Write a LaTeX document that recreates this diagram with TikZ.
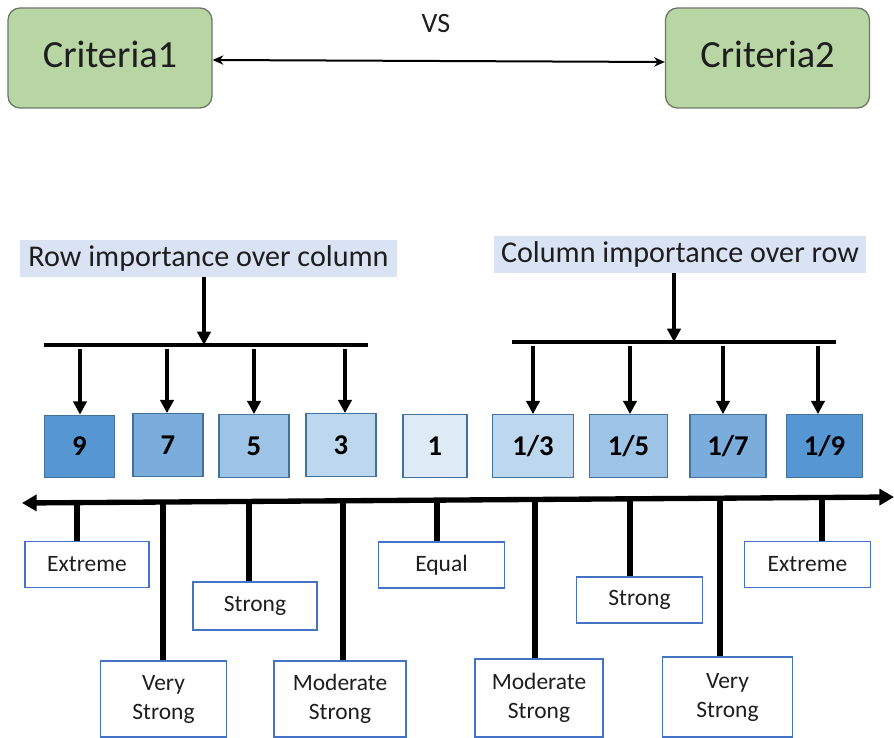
\documentclass[tikz,border=0pt]{standalone}
\usepackage{fontspec}
\setmainfont{Carlito}
\usetikzlibrary{arrows.meta}

\definecolor{critfill}{RGB}{184,214,164}
\definecolor{critedge}{RGB}{110,120,104}
\definecolor{headfill}{RGB}{218,227,243}
\definecolor{numedge}{RGB}{65,113,156}
\definecolor{lvl9}{RGB}{86,150,210}
\definecolor{lvl7}{RGB}{122,172,220}
\definecolor{lvl5}{RGB}{157,195,230}
\definecolor{lvl3}{RGB}{189,215,238}
\definecolor{lvl1}{RGB}{222,235,247}
\definecolor{tagedge}{RGB}{68,114,196}
\definecolor{inkgray}{RGB}{30,30,30}

% two centred lines, set a little below the middle of their box
\newcommand\twoline[2]{\raisebox{-4pt}{\begin{tabular}{@{}c@{}}#1\\[0.75pt]#2\end{tabular}}}

\tikzset{
  crit/.style={draw=critedge, line width=1pt, fill=critfill, rounded corners=9,
    minimum width=153pt, minimum height=75pt, inner sep=0pt,
    font=\fontsize{28.8}{32}\selectfont, text=inkgray},
  headbox/.style={fill=headfill, inner sep=0pt, minimum height=28pt,
    font=\fontsize{22.6}{26}\selectfont, text=inkgray},
  numbox/.style={draw=numedge, line width=0.8pt, inner sep=0pt,
    minimum height=47pt, font=\fontsize{21.5}{24}\selectfont\bfseries},
  tagbox/.style={draw=tagedge, line width=0.9pt, fill=white, inner sep=0pt,
    font=\fontsize{17.6}{21}\selectfont, text=inkgray},
  thinlink/.style={line width=1.5pt, {Stealth[length=8pt,width=7pt]}-{Stealth[length=8pt,width=7pt]}},
  bar/.style={line width=2.6pt},
  droparrow/.style={line width=2.4pt, -{Triangle[length=10pt,width=10pt]}},
  axis/.style={line width=4pt, {Triangle[length=11pt,width=12pt]}-{Triangle[length=11pt,width=12pt]}},
  tick/.style={line width=4pt},
}

\begin{document}
\begin{tikzpicture}[x=0.75pt,y=-0.75pt]
\useasboundingbox (0,0) rectangle (894,738);

% criteria being compared
\node[crit] (c1) at (110,58) {\raisebox{5pt}{Criteria1}};
\node[crit] (c2) at (767.5,58) {\raisebox{5pt}{Criteria2}};
\node[font=\fontsize{21}{24}\selectfont, text=inkgray] (vs) at (436,24) {VS};
\draw[thinlink] (c1.east |- 0,60) -- (c2.west |- 0,62);

% group headings
\node[headbox, minimum width=283pt] (rowhead) at (208.5,258.5) {Row importance over column};
\node[headbox, minimum width=279pt] (colhead) at (680,254.5) {Column importance over row};

% distribution bars
\coordinate (lbarL) at (44,345);
\coordinate (lbarR) at (368,345);
\coordinate (lbarM) at (204,345);
\coordinate (rbarL) at (512,342);
\coordinate (rbarR) at (836,342);
\coordinate (rbarM) at (674,342);
\draw[bar] (lbarL) -- (lbarR);
\draw[bar] (rbarL) -- (rbarR);
\draw[droparrow] (rowhead.south -| lbarM) -- (lbarM);
\draw[droparrow] (colhead.south -| rbarM) -- (rbarM);

% intensity scale
\node[numbox, fill=lvl9, minimum width=53pt] (n9) at (79.5,446.5) {9};
\node[numbox, fill=lvl7, minimum width=52.5pt] (n7) at (168,445) {7};
\node[numbox, fill=lvl5, minimum width=52.5pt] (n5) at (254,446) {5};
\node[numbox, fill=lvl3, minimum width=52.5pt] (n3) at (341,445) {3};
\node[numbox, fill=lvl1, minimum width=48pt] (n1) at (435,446) {1};
\node[numbox, fill=lvl3, minimum width=61pt] (m3) at (533,446) {1/3};
\node[numbox, fill=lvl5, minimum width=59pt] (m5) at (628.5,446) {1/5};
\node[numbox, fill=lvl7, minimum width=57pt] (m7) at (728,446) {1/7};
\node[numbox, fill=lvl9, minimum width=57pt] (m9) at (824.5,446) {1/9};

\foreach \src/\dst/\x in {lbarL/n9/80, lbarL/n7/167, lbarL/n5/254, lbarL/n3/345,
                          rbarL/m3/533, rbarL/m5/630, rbarL/m7/723, rbarL/m9/818}
  \draw[droparrow] (\src -| \x,0) ++(0,4) -- (\dst.north -| \x,0);

% verbal scale axis
\coordinate (axL) at (22,503);
\coordinate (axR) at (894,497);
\draw[axis] (axL) -- (axR);

\node[tagbox, minimum width=93pt, minimum height=35pt] (e1) at (87,564.5) {Extreme};
\node[tagbox, minimum width=94pt, minimum height=57pt] (v1) at (163.5,699) {\twoline{Very}{Strong}};
\node[tagbox, minimum width=93pt, minimum height=36pt] (s1) at (255,606) {Strong};
\node[tagbox, minimum width=99pt, minimum height=57pt] (o1) at (340,699) {\twoline{Moderate}{Strong}};
\node[tagbox, minimum width=94pt, minimum height=34.5pt] (eq) at (441.5,565) {Equal};
\node[tagbox, minimum width=96pt, minimum height=58.5pt] (o2) at (539,698) {\twoline{Moderate}{Strong}};
\node[tagbox, minimum width=94pt, minimum height=34.5pt] (s2) at (639.5,600) {Strong};
\node[tagbox, minimum width=98pt, minimum height=60pt] (v2) at (727.5,697) {\twoline{Very}{Strong}};
\node[tagbox, minimum width=94pt, minimum height=35pt] (e2) at (807.5,564.5) {Extreme};

\foreach \t/\x/\y in {e1/77/503, v1/163/502.5, s1/249/502, o1/343/501.5, eq/437/501,
                      o2/535/500, s2/630/499.5, v2/720/498.5, e2/822/497.5}
  \draw[tick] (\x,\y) -- (\t.north -| \x,0);
\end{tikzpicture}
\end{document}
